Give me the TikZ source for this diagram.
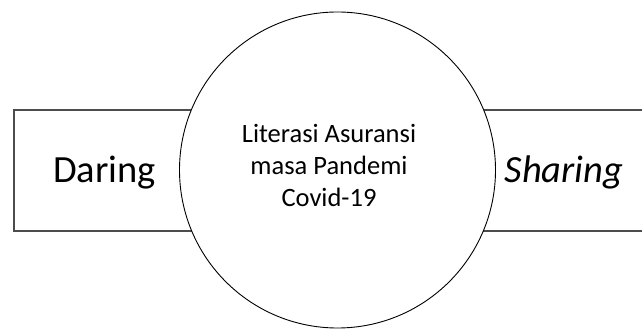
\documentclass[tikz,border=0pt]{standalone}
\usepackage{fontspec}
\setmainfont{Carlito}
\begin{document}
\begin{tikzpicture}[x=1pt,y=1pt,
  boxline/.style={draw=black!70,line width=1.3pt},
  bubble/.style={draw=black,line width=0.9pt,fill=white},
  bigtext/.style={font=\fontsize{38.5}{46}\selectfont,anchor=base,inner sep=0pt},
  midtext/.style={font=\fontsize{26.5}{32}\selectfont,align=center,inner sep=0pt}]
\useasboundingbox (0,0) rectangle (642,329);
\coordinate (bl) at (14,98);
\coordinate (tl) at (14,219);
\coordinate (tr) at (650,219);
\coordinate (br) at (650,98);
\draw[boxline] (tr) -- (tl) -- (bl) -- (br);
\node[bubble,circle,minimum size=316pt,inner sep=0pt] (c) at (337.5,159) {};
\node[midtext] (t) at (329,164) {Literasi Asuransi\\masa Pandemi\\Covid-19};
\node[bigtext] (d) at (104.5,146.3) {Daring};
\node[bigtext] (s) at (564,146.3) {\itshape Sharing};
\end{tikzpicture}
\end{document}
